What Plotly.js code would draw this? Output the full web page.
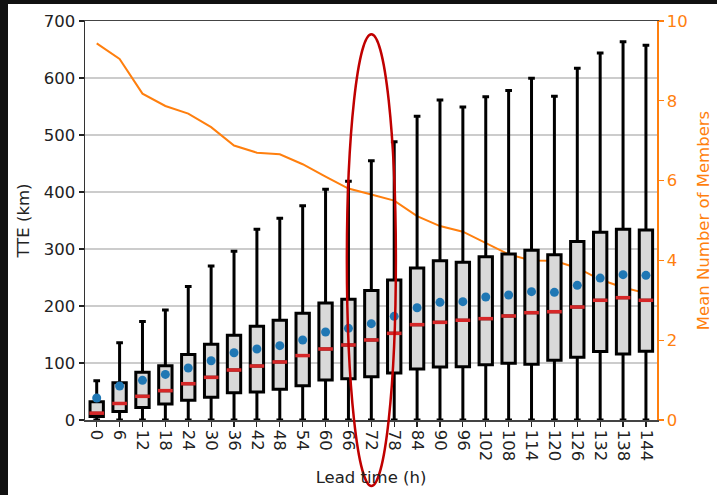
<!DOCTYPE html>
<html>
<head>
<meta charset="utf-8">
<script src="https://cdn.plot.ly/plotly-3.0.1.min.js"></script>
<style>
  html, body { margin: 0; padding: 0; background: #111111; width: 717px; height: 495px; overflow: hidden; }
  #chart { position: absolute; left: 8px; top: 4px; width: 709px; height: 491px; background: #ffffff; }
</style>
</head>
<body>
<div id="chart"></div>
<script>
// Lead times (h)
const leadTimes = [0, 6, 12, 18, 24, 30, 36, 42, 48, 54, 60, 66, 72, 78, 84, 90, 96, 102, 108, 114, 120, 126, 132, 138, 144];
// TTE (km) box statistics
const lowerWhisker = [0, 0, 0, 0, 0, 0, 0, 0, 0, 0, 0, 0, 0, 0, 0, 0, 0, 0, 0, 0, 0, 0, 0, 0, 0];
const q1Values     = [6, 15, 22, 28, 34.5, 40, 48, 49, 54, 60, 70, 72.5, 76, 82.5, 89.5, 93, 93.6, 97, 99.4, 97.7, 105, 110, 120, 116, 120.5];
const medianValues = [12, 29, 41.5, 51.5, 63.7, 74.8, 87.7, 94.7, 101.8, 113, 124.6, 131.6, 140.4, 152, 167.3, 171.3, 175, 177.8, 182.5, 188.3, 190, 198.2, 210, 214.6, 210];
const q3Values     = [32, 65.5, 83.6, 95.3, 115, 132.7, 148.5, 164.3, 175, 187.2, 205.3, 211.7, 227, 245.6, 266.7, 279.5, 276.6, 286.5, 291.2, 297.7, 290, 313, 329.3, 334.5, 333.3];
const upperWhisker = [69, 135.6, 173, 193, 234, 270, 296, 334.5, 354, 376, 404.7, 418.7, 455, 488, 533, 561.4, 549, 567, 578, 599.4, 567.8, 617, 644, 663.7, 657.3];
const meanValues   = [38.6, 59.6, 69.6, 80, 91.2, 104, 118, 124.6, 130.4, 140.4, 154.4, 160.8, 169, 181.9, 197, 206.4, 207.6, 215.8, 219.3, 225.1, 224, 236.3, 249, 255, 253.8];
// Mean number of members (right axis)
const meanMembers  = [9.44, 9.05, 8.18, 7.87, 7.68, 7.34, 6.88, 6.70, 6.66, 6.41, 6.10, 5.80, 5.65, 5.50, 5.11, 4.86, 4.72, 4.44, 4.15, 4.00, 3.99, 3.81, 3.52, 3.32, 3.18];
const tickText = leadTimes.map(String);

const tickFont = { family: 'DejaVu Sans, sans-serif', size: 16.5, color: '#222222' };
const orange = '#ff7f0e';

const traces = [
  {
    type: 'scatter', mode: 'lines',
    x: leadTimes, y: meanMembers,
    xaxis: 'x', yaxis: 'y',
    line: { color: orange, width: 2 },
    hoverinfo: 'skip', showlegend: false
  },
  {
    type: 'box',
    x: leadTimes,
    q1: q1Values, median: medianValues, q3: q3Values,
    lowerfence: lowerWhisker, upperfence: upperWhisker,
    xaxis: 'x', yaxis: 'y2',
    width: 3.5,
    whiskerwidth: 0.5,
    fillcolor: '#d9d9d9',
    line: { color: '#000000', width: 3 },
    boxpoints: false,
    showlegend: false, hoverinfo: 'skip'
  },
  {
    type: 'scatter', mode: 'markers',
    x: leadTimes, y: medianValues,
    xaxis: 'x', yaxis: 'y2',
    marker: { symbol: 'line-ew', size: 10.5, color: '#d62728', line: { color: '#d62728', width: 3.5 } },
    showlegend: false, hoverinfo: 'skip'
  },
  {
    type: 'scatter', mode: 'markers',
    x: leadTimes, y: meanValues,
    xaxis: 'x', yaxis: 'y2',
    marker: { symbol: 'circle', size: 9, color: '#1f77b4' },
    showlegend: false, hoverinfo: 'skip'
  }
];

const layout = {
  width: 709, height: 491,
  margin: { l: 77, r: 60.3, t: 17, b: 75, pad: 0 },
  paper_bgcolor: '#ffffff', plot_bgcolor: '#ffffff',
  showlegend: false,
  font: { family: 'DejaVu Sans, sans-serif', size: 16, color: '#222222' },
  xaxis: {
    range: [-3.07, 146.9],
    tickmode: 'array', tickvals: leadTimes, ticktext: tickText,
    tickangle: 90,
    tickfont: tickFont,
    ticks: 'outside', ticklen: 5, tickwidth: 1.2, tickcolor: '#222222',
    showgrid: false, zeroline: false,
    showline: true, linecolor: '#444444', linewidth: 1.5, mirror: true,
    title: { text: 'Lead time (h)', font: { family: 'DejaVu Sans, sans-serif', size: 16.5, color: '#222222' }, standoff: 11 }
  },
  yaxis: {
    side: 'right',
    range: [0, 10],
    tickmode: 'array', tickvals: [0, 2, 4, 6, 8, 10],
    tickfont: { family: 'DejaVu Sans, sans-serif', size: 16.5, color: orange },
    ticks: 'outside', ticklen: 5, tickwidth: 1.2, tickcolor: orange,
    showgrid: false, zeroline: false,
    showline: true, linecolor: orange, linewidth: 1.5,
    title: { text: 'Mean Number of Members', font: { family: 'DejaVu Sans, sans-serif', size: 16.5, color: orange }, standoff: 10 }
  },
  yaxis2: {
    overlaying: 'y', side: 'left',
    range: [0, 700],
    tickmode: 'array', tickvals: [0, 100, 200, 300, 400, 500, 600, 700],
    tickfont: tickFont,
    ticks: 'outside', ticklen: 5, tickwidth: 1.2, tickcolor: '#222222',
    showgrid: true, gridcolor: '#cccccc', gridwidth: 1.5,
    zeroline: false,
    showline: true, linecolor: '#333333', linewidth: 1.5,
    title: { text: 'TTE (km)', font: { family: 'DejaVu Sans, sans-serif', size: 16.5, color: '#222222' }, standoff: 10 }
  },
  shapes: [
    {
      type: 'circle', xref: 'paper', yref: 'paper', layer: 'above',
      x0: 0.4578, x1: 0.5435, y0: -0.1654, y1: 0.9667,
      line: { color: '#c00000', width: 2.5 }
    }
  ]
};

Plotly.newPlot('chart', traces, layout, { staticPlot: true, displayModeBar: false });
</script>
</body>
</html>
